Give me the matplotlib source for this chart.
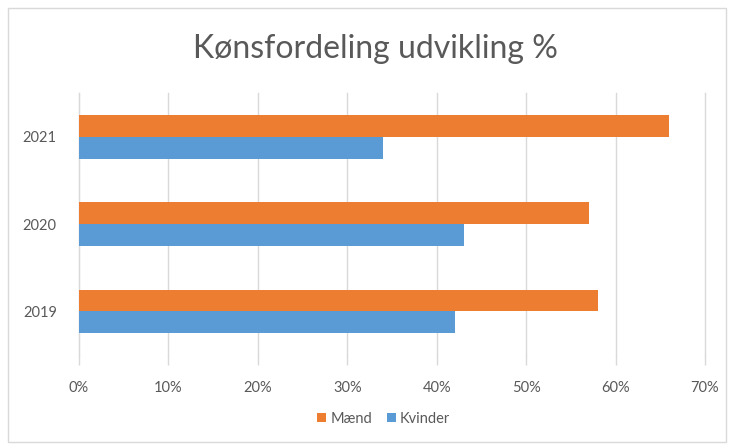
import matplotlib.pyplot as plt
from matplotlib.patches import Rectangle

years = ["2019", "2020", "2021"]
maend = [0.58, 0.57, 0.66]
kvinder = [0.42, 0.43, 0.34]
xticks = [0.0, 0.1, 0.2, 0.3, 0.4, 0.5, 0.6, 0.7]
xtick_labels = ["0%", "10%", "20%", "30%", "40%", "50%", "60%", "70%"]

ORANGE = "#ED7D31"
BLUE = "#5B9BD5"
GRID = "#D9D9D9"
TEXT = "#595959"

plt.rcParams["font.family"] = ["Lato", "DejaVu Sans"]

fig = plt.figure(figsize=(7.31, 4.44), dpi=100)
ax = fig.add_axes([79 / 731, 89 / 444, 626 / 731, 262 / 444])

# chart border
fig.patches.append(Rectangle((8 / 731, 2 / 444), 718 / 731, 434 / 444, transform=fig.transFigure,
                             fill=False, edgecolor="#D9D9D9", linewidth=1.0))

pos = list(range(len(years)))
h = 0.25
ax.barh([p + h / 2 for p in pos], maend, height=h, color=ORANGE, label="Mænd", zorder=3)
ax.barh([p - h / 2 for p in pos], kvinder, height=h, color=BLUE, label="Kvinder", zorder=3)

ax.set_xlim(0, 0.7)
ax.set_ylim(-0.5, 2.5)
ax.set_xticks(xticks)
ax.set_xticklabels(xtick_labels)
ax.set_yticks(pos)
ax.set_yticklabels(years)
ax.grid(axis="x", color=GRID, linewidth=1.0, zorder=0)
for line in ax.get_xgridlines():
    line.set_clip_on(False)
ax.tick_params(axis="x", length=7, color=GRID, width=1.0, labelsize=10.5, labelcolor=TEXT, pad=12)
ax.tick_params(axis="y", length=0, labelsize=10.5, labelcolor=TEXT, pad=16)
for side in ("top", "right", "bottom"):
    ax.spines[side].set_visible(False)
ax.spines["left"].set_color(GRID)

fig.text(0.513, 0.89, "Kønsfordeling udvikling %", ha="center", va="center", fontsize=23, color=TEXT)

fig.legend(loc="center", bbox_to_anchor=(0.525, 0.057), ncol=2, frameon=False, fontsize=10.5,
           labelcolor=TEXT, handlelength=0.6, handleheight=0.6, handletextpad=0.3, columnspacing=1.0)

fig.savefig("out.png", dpi=100, facecolor="white")
